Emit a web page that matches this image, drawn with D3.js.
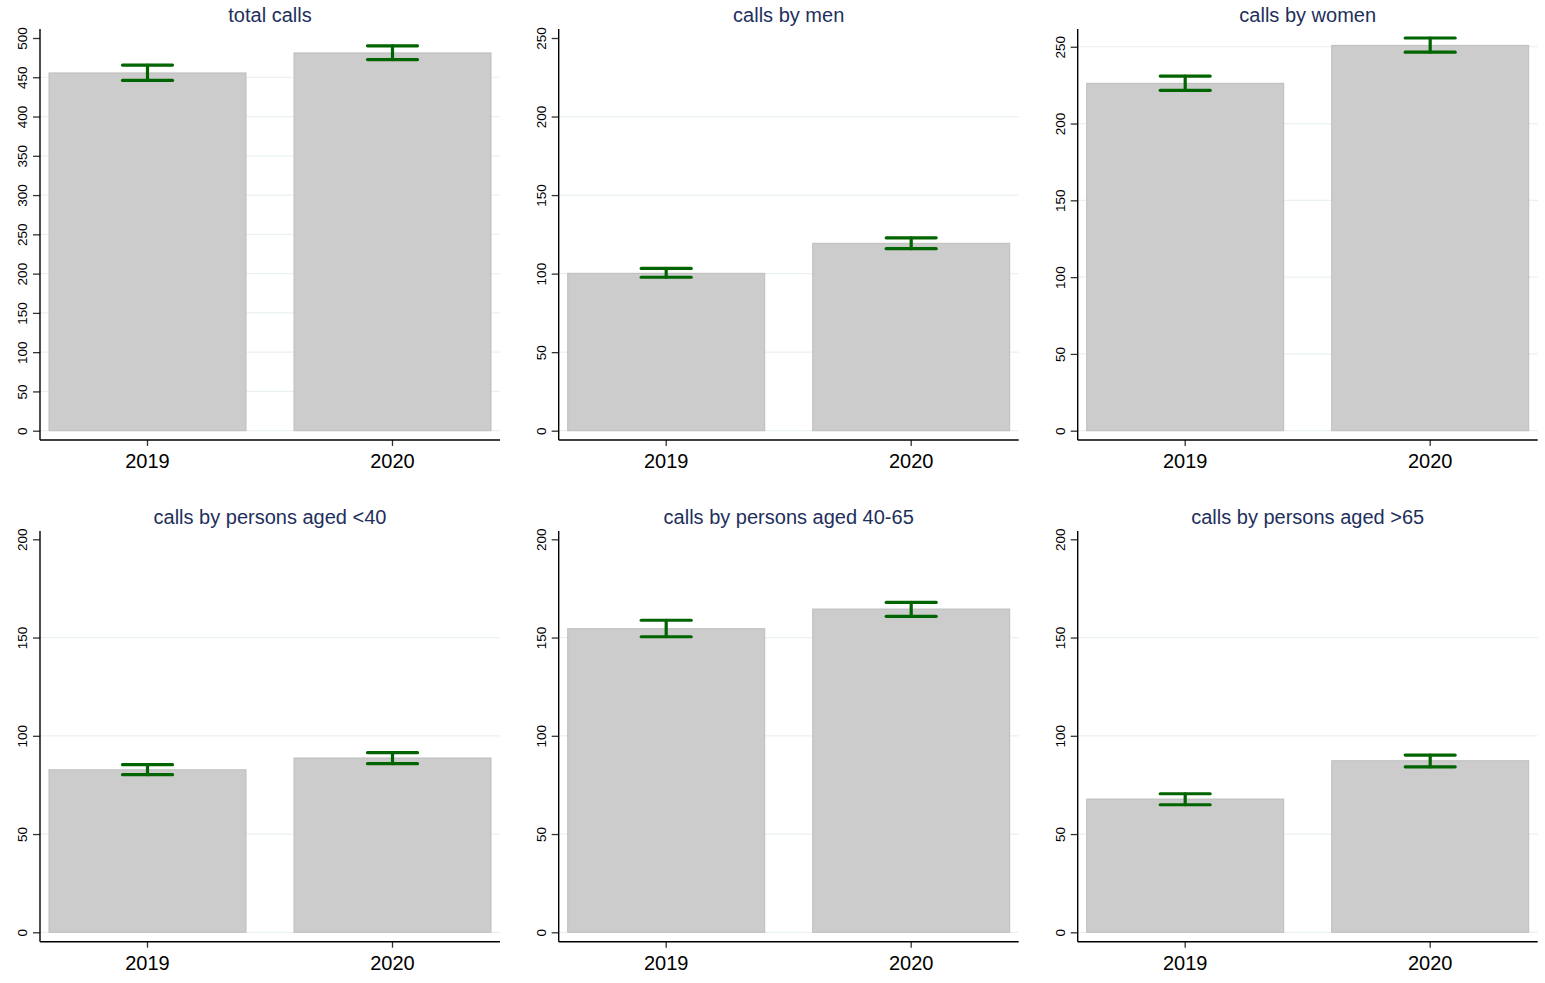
<!DOCTYPE html>
<html>
<head>
<meta charset="utf-8">
<script src="https://cdn.jsdelivr.net/npm/d3@7"></script>
<style>
  html, body { margin: 0; padding: 0; background: #fff; }
  svg { display: block; }
  text { font-family: "Liberation Sans", Arial, sans-serif; }
</style>
</head>
<body>
<svg id="chart" width="1545" height="983"></svg>
<script>
// ---- data ----
const years = ["2019", "2020"];
const titles = ["total calls", "calls by men", "calls by women",
                "calls by persons aged <40", "calls by persons aged 40-65", "calls by persons aged >65"];
const meanValues = [
  [455.5, 481.0],
  [100.2, 119.3],
  [226.2, 250.9],
  [82.7, 88.7],
  [154.5, 164.5],
  [67.8, 87.3]
];
const ciLower = [
  [446.0, 472.5],
  [97.7, 115.9],
  [221.6, 246.5],
  [80.2, 85.8],
  [150.4, 160.8],
  [64.9, 84.2]
];
const ciUpper = [
  [465.5, 490.0],
  [103.3, 122.8],
  [230.9, 255.7],
  [85.3, 91.4],
  [158.8, 167.9],
  [70.5, 90.2]
];
const yTicks = [
  [0, 50, 100, 150, 200, 250, 300, 350, 400, 450, 500],
  [0, 50, 100, 150, 200, 250],
  [0, 50, 100, 150, 200, 250],
  [0, 50, 100, 150, 200],
  [0, 50, 100, 150, 200],
  [0, 50, 100, 150, 200]
];

// ---- layout ----
const svg = d3.select("#chart");
const colX = [40, 558.7, 1077.7];
const plotW = 460;
const rowGeo = [
  { top: 29, zero: 430.7, topData: 38, axisY: 440 },
  { top: 531, zero: 932.3, topData: 539.3, axisY: 941.7 }
];
const titleColor = "#1e2f5c";
const gridColor = "#e9f1f2";
const barFill = "#cccccc";
const barStroke = "#bdbdbd";
const errColor = "#006400";

titles.forEach((title, i) => {
  const col = i % 3, row = Math.floor(i / 3);
  const g0 = rowGeo[row];
  const x0 = colX[col];
  const g = svg.append("g");

  const maxVal = Math.max(d3.max(yTicks[i]), d3.max(ciUpper[i]));
  const y = d3.scaleLinear().domain([0, maxVal]).range([g0.zero, g0.topData]);
  const x = d3.scaleBand().domain(years).range([x0 + 9, x0 + plotW - 9])
    .paddingInner(48 / 245).paddingOuter(0);

  // gridlines
  g.selectAll("line.grid").data(yTicks[i].filter(t => Math.abs(y(t) - g0.top) > 10))
    .join("line").attr("class", "grid")
    .attr("x1", x0).attr("x2", x0 + plotW)
    .attr("y1", d => y(d)).attr("y2", d => y(d))
    .attr("stroke", gridColor).attr("stroke-width", 1.2);

  // bars
  g.selectAll("rect.bar").data(years).join("rect").attr("class", "bar")
    .attr("x", d => x(d)).attr("width", x.bandwidth())
    .attr("y", (d, k) => y(meanValues[i][k]))
    .attr("height", (d, k) => y(0) - y(meanValues[i][k]))
    .attr("fill", barFill).attr("stroke", barStroke).attr("stroke-width", 1);

  // error bars
  const capW = 25;
  const eg = g.selectAll("g.err").data(years).join("g").attr("class", "err")
    .attr("stroke", errColor).attr("stroke-width", 3.2).attr("stroke-linecap", "round");
  eg.append("line")
    .attr("x1", d => x(d) + x.bandwidth() / 2).attr("x2", d => x(d) + x.bandwidth() / 2)
    .attr("y1", (d, k) => y(ciLower[i][k])).attr("y2", (d, k) => y(ciUpper[i][k]));
  eg.append("line")
    .attr("x1", d => x(d) + x.bandwidth() / 2 - capW).attr("x2", d => x(d) + x.bandwidth() / 2 + capW)
    .attr("y1", (d, k) => y(ciUpper[i][k])).attr("y2", (d, k) => y(ciUpper[i][k]));
  eg.append("line")
    .attr("x1", d => x(d) + x.bandwidth() / 2 - capW).attr("x2", d => x(d) + x.bandwidth() / 2 + capW)
    .attr("y1", (d, k) => y(ciLower[i][k])).attr("y2", (d, k) => y(ciLower[i][k]));

  // y axis
  const yAxis = d3.axisLeft(y).tickValues(yTicks[i]).tickSize(7).tickPadding(4).tickFormat(d3.format("d"));
  const ya = g.append("g").attr("transform", `translate(${x0},0)`).call(yAxis);
  ya.select(".domain").remove();
  ya.selectAll(".tick line").attr("stroke", "#333").attr("stroke-width", 1.3);
  ya.selectAll(".tick text")
    .attr("font-size", 13.5).attr("fill", "#000")
    .attr("transform", "rotate(-90)")
    .attr("x", 0).attr("y", -13).attr("dy", 0)
    .attr("text-anchor", "middle");
  g.append("line").attr("x1", x0).attr("x2", x0).attr("y1", g0.top).attr("y2", g0.axisY)
    .attr("stroke", "#000").attr("stroke-width", 1.4);

  // x axis
  const xAxis = d3.axisBottom(x).tickSize(6).tickPadding(8);
  const xa = g.append("g").attr("transform", `translate(0,${g0.axisY})`).call(xAxis);
  xa.select(".domain").remove();
  xa.selectAll(".tick line").attr("stroke", "#333").attr("stroke-width", 1.3);
  xa.selectAll(".tick text").attr("font-size", 20).attr("fill", "#000");
  g.append("line").attr("x1", x0).attr("x2", x0 + plotW).attr("y1", g0.axisY).attr("y2", g0.axisY)
    .attr("stroke", "#000").attr("stroke-width", 1.4);

  // title
  g.append("text").attr("x", x0 + plotW / 2).attr("y", g0.top - 7)
    .attr("text-anchor", "middle").attr("font-size", 20).attr("fill", titleColor)
    .text(title);
});
</script>
</body>
</html>
